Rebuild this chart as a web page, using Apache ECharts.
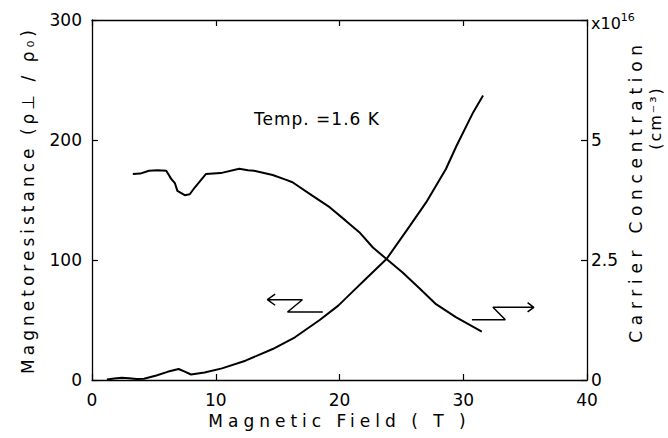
<!DOCTYPE html>
<html>
<head>
<meta charset="utf-8">
<script src="https://cdn.jsdelivr.net/npm/echarts@6/dist/echarts.min.js"></script>
<style>
    html, body { margin: 0; padding: 0; background: #fff; }
    #chart { width: 668px; height: 438px; }
</style>
</head>
<body>
<div id="chart"></div>
<script>
// magnetoresistance (left axis) vs field
const mrField = [1.2, 1.8, 2.4, 3.0, 3.6, 4.2, 5.2, 6.1, 7.0, 7.5, 8.0, 9.1, 10.5, 12.4, 14.6, 16.4, 18.4, 19.9, 21.0, 22.2, 23.8, 25.7, 27.0, 28.6, 29.45, 30.8, 31.6]
const mrValue = [0.5, 1.2, 1.8, 1.5, 0.8, 1.0, 3.8, 6.8, 9.2, 7.0, 4.6, 6.2, 9.7, 16.1, 25.8, 35.6, 50, 62, 73, 85, 100.8, 128.6, 148, 175.8, 195, 223, 237]

// carrier concentration (right axis, x10^16 cm^-3) vs field
const ccField = [3.3, 3.9, 4.6, 5.3, 6.0, 6.4, 6.7, 6.9, 7.5, 7.9, 8.3, 9.2, 10.4, 11.9, 12.6, 13.1, 14.6, 15.7, 16.2, 17.8, 19.2, 20.5, 21.6, 22.7, 23.8, 25.1, 26.5, 27.8, 29.4, 31.5]
const ccValue = [4.29, 4.30, 4.36, 4.37, 4.36, 4.19, 4.10, 3.94, 3.85, 3.87, 4.01, 4.29, 4.31, 4.40, 4.37, 4.36, 4.27, 4.17, 4.12, 3.84, 3.60, 3.32, 3.08, 2.76, 2.52, 2.24, 1.90, 1.58, 1.31, 1.01]

const fieldTicks = [0, 10, 20, 30, 40]
const mrTicks = [0, 100, 200, 300]
const ccTicks = [0, 2.5, 5, 7.5]

// zig-zag arrows, in field / magnetoresistance units
const arrowLeft = [[14.8, 71.5], [14.17, 66.9], [14.8, 62.3], [14.17, 66.9], [17.0, 66.9], [15.8, 56.7], [18.65, 56.7]]
const arrowRight = [[30.7, 50.25], [33.4, 50.25], [32.4, 60.6], [35.7, 60.6], [35.2, 64.5], [35.7, 60.6], [35.2, 56.7]]

const zip = (xs, ys) => xs.map((x, i) => [x, ys[i]])
const font = 'DejaVu Sans'
const black = '#000'
const axisLine = {show: true, onZero: false, lineStyle: {color: black, width: 1.3}}
const tick = {show: true, inside: true, length: 6, lineStyle: {color: black, width: 1.2}}
const lineStyle = {color: black, width: 2}

const myChart = echarts.init(document.getElementById('chart'), null, {renderer: 'svg'})

const option = {
    animation: false,
    grid: {left: 92, right: 81, top: 20, bottom: 58},
    xAxis: [
        {
            type: 'value',
            min: fieldTicks[0],
            max: fieldTicks[fieldTicks.length - 1],
            interval: 10,
            axisLine: axisLine,
            axisTick: tick,
            splitLine: {show: false},
            axisLabel: {color: black, fontSize: 17, fontFamily: font, margin: 11},
            name: 'Magnetic Field ( T )',
            nameLocation: 'middle',
            nameGap: 28,
            nameTextStyle: {color: black, fontSize: 17, fontFamily: font},
        },
        {
            type: 'value',
            position: 'top',
            min: fieldTicks[0],
            max: fieldTicks[fieldTicks.length - 1],
            interval: 10,
            axisLine: axisLine,
            axisTick: tick,
            splitLine: {show: false},
            axisLabel: {show: false},
        },
    ],
    yAxis: [
        {
            type: 'value',
            position: 'left',
            min: mrTicks[0],
            max: mrTicks[mrTicks.length - 1],
            interval: 100,
            axisLine: axisLine,
            axisTick: tick,
            splitLine: {show: false},
            axisLabel: {color: black, fontSize: 17, fontFamily: font, margin: 10},
            name: 'Magnetoresistance (ρ⊥ / ρ₀)',
            nameLocation: 'middle',
            nameRotate: 90,
            nameGap: 56,
            nameTextStyle: {color: black, fontSize: 17, fontFamily: font},
        },
        {
            type: 'value',
            position: 'right',
            min: ccTicks[0],
            max: ccTicks[ccTicks.length - 1],
            interval: 2.5,
            axisLine: axisLine,
            axisTick: tick,
            splitLine: {show: false},
            axisLabel: {
                color: black,
                fontSize: 17,
                fontFamily: font,
                margin: 4,
                formatter(value) {
                    return value === 7.5 ? '{x|x10}{sup|16}' : String(value)
                },
                rich: {
                    x: {fontSize: 16, fontFamily: font, color: black, padding: [6, 0, 0, 0]},
                    sup: {fontSize: 11, fontFamily: font, color: black, padding: [0, 0, 6, 0]},
                },
            },
        },
    ],
    graphic: [
        {
            type: 'text',
            left: 254,
            top: 110,
            style: {text: 'Temp. =1.6 K', fontSize: 17, fontFamily: font, fill: black},
        },
        {
            type: 'text',
            x: 636,
            y: 191,
            rotation: Math.PI / 2,
            style: {text: 'Carrier Concentration', fontSize: 17, fontFamily: font, fill: black, align: 'center', verticalAlign: 'middle'},
        },
        {
            type: 'text',
            x: 655,
            y: 118,
            rotation: Math.PI / 2,
            style: {text: '(cm⁻³)', fontSize: 16, fontFamily: font, fill: black, align: 'center', verticalAlign: 'middle'},
        },
    ],
    series: [
        {
            name: 'Magnetoresistance',
            type: 'line',
            xAxisIndex: 0,
            yAxisIndex: 0,
            data: zip(mrField, mrValue),
            symbol: 'none',
            lineStyle: lineStyle,
            silent: true,
        },
        {
            name: 'Carrier Concentration',
            type: 'line',
            xAxisIndex: 0,
            yAxisIndex: 1,
            data: zip(ccField, ccValue),
            symbol: 'none',
            lineStyle: lineStyle,
            silent: true,
        },
        {
            type: 'line',
            xAxisIndex: 0,
            yAxisIndex: 0,
            data: arrowLeft,
            symbol: 'none',
            lineStyle: {color: black, width: 1.5},
            silent: true,
        },
        {
            type: 'line',
            xAxisIndex: 0,
            yAxisIndex: 0,
            data: arrowRight,
            symbol: 'none',
            lineStyle: {color: black, width: 1.5},
            silent: true,
        },
    ],
}

myChart.setOption(option)

// the printed figure uses widely spaced lettering
const spacing = {
    'Magnetic Field ( T )': 5,
    'Magnetoresistance (ρ⊥ / ρ₀)': 4,
    'Carrier Concentration': 5.7,
    '(cm⁻³)': 2,
    'Temp. =1.6 K': 1,
}
function spaceLetters() {
    document.querySelectorAll('#chart text').forEach(t => {
        const s = spacing[t.textContent]
        if (s) t.style.letterSpacing = s + 'px'
    })
}
spaceLetters()
myChart.on('finished', spaceLetters)
</script>
</body>
</html>
